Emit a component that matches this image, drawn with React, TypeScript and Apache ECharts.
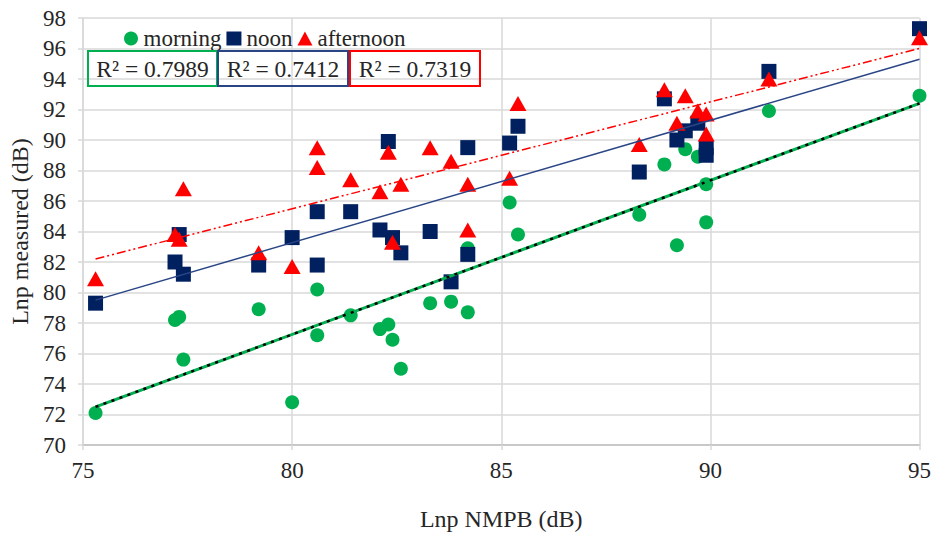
import React, { useEffect, useRef } from "react";
import * as echarts from "echarts";

const xs = [75.3, 77.2, 77.3, 77.4, 79.2, 80.0, 80.6, 80.6, 81.4, 82.1, 82.3, 82.4, 82.6, 83.3, 83.8, 84.2, 84.2, 85.2, 85.4, 88.3, 88.9, 89.2, 89.4, 89.7, 89.9, 89.9, 91.4, 95.0];
const morning = [72.1, 78.2, 78.4, 75.6, 78.9, 72.8, 80.2, 77.2, 78.5, 77.6, 77.9, 76.9, 75.0, 79.3, 79.4, 78.7, 82.9, 85.9, 83.8, 85.1, 88.4, 83.1, 89.4, 88.9, 87.1, 84.6, 91.9, 92.9];
const noon = [79.3, 82.0, 83.8, 81.2, 81.8, 83.6, 85.3, 81.8, 85.3, 84.1, 89.9, 83.6, 82.6, 84.0, 80.7, 82.5, 89.5, 89.8, 90.9, 87.9, 92.7, 90.0, 90.6, 91.1, 89.5, 89.0, 94.5, 97.3];
const afternoon = [80.9, 83.8, 83.5, 86.8, 82.6, 81.7, 89.5, 88.2, 87.4, 86.6, 89.2, 83.3, 87.1, 89.5, 88.6, 87.1, 84.1, 87.5, 92.4, 89.7, 93.3, 91.1, 92.9, 91.9, 91.7, 90.4, 94.0, 96.7];

const trendX = [75.3, 95.0];
const trendMorning = [72.5, 92.4];
const trendNoon = [79.5, 95.3];
const trendAfternoon = [82.2, 96.0];

const seriesNames = ["morning", "noon", "afternoon"];
const r2Values = ["0.7989", "0.7412", "0.7319"];

const GREEN = "#00b050";
const NAVY = "#002060";
const NAVY_LINE = "#2a4585";
const RED = "#ff0000";
const FONT = "'Liberation Serif', 'Times New Roman', serif";
const TEXT = "#262626";
const GRID = "#d9d9d9";

const pairs = (ys: number[]) => xs.map((x, i) => [x, ys[i]]);
const tpairs = (ys: number[]) => trendX.map((x, i) => [x, ys[i]]);

export default function App() {
  const ref = useRef<HTMLDivElement>(null);
  useEffect(() => {
    if (!ref.current) return;
    const chart = echarts.init(ref.current, undefined, { renderer: "svg" });
    const boxX = [88, 218, 350];
    const boxW = [129, 130, 130];
    const boxColors = [GREEN, NAVY_LINE, RED];
    const graphics: any[] = [];
    r2Values.forEach((v, i) => {
      graphics.push({
        type: "rect",
        shape: { x: boxX[i], y: 51, width: boxW[i], height: 35 },
        style: { fill: "none", stroke: boxColors[i], lineWidth: 2 },
        z: 10,
      });
      graphics.push({
        type: "text",
        x: boxX[i] + boxW[i] / 2,
        y: 69,
        style: {
          text: "R² = " + v,
          fill: TEXT,
          font: `23.5px ${FONT}`,
          textAlign: "center",
          textVerticalAlign: "middle",
        },
        z: 11,
      });
    });
    chart.setOption({
      animation: false,
      backgroundColor: "#ffffff",
      grid: { left: 83, right: 14, top: 18, bottom: 90 },
      legend: {
        data: [
          { name: seriesNames[0], icon: "circle" },
          { name: seriesNames[1], icon: "rect" },
          { name: seriesNames[2], icon: "triangle" },
        ],
        left: 119,
        top: 22,
        itemWidth: 15,
        itemHeight: 14,
        itemGap: 5,
        itemTextGap: 3,
        textStyle: { fontFamily: FONT, fontSize: 23, color: TEXT },
      },
      xAxis: {
        type: "value",
        min: 75,
        max: 95,
        interval: 5,
        name: "Lnp NMPB (dB)",
        nameLocation: "middle",
        nameGap: 62,
        nameTextStyle: { fontFamily: FONT, fontSize: 24, color: TEXT },
        axisLine: { show: true, lineStyle: { color: "#c8c8c8", width: 2 } },
        axisTick: { show: true, length: 5, lineStyle: { color: GRID, width: 1.5 } },
        axisLabel: { fontFamily: FONT, fontSize: 23, color: TEXT, margin: 14 },
        splitLine: { show: true, lineStyle: { color: GRID, width: 1.5 } },
      },
      yAxis: {
        type: "value",
        min: 70,
        max: 98,
        interval: 2,
        name: "Lnp measured (dB)",
        nameLocation: "middle",
        nameGap: 49,
        nameTextStyle: { fontFamily: FONT, fontSize: 24, color: TEXT },
        axisLine: { show: true, lineStyle: { color: GRID, width: 1.5 } },
        axisTick: { show: true, length: 5, lineStyle: { color: GRID, width: 1.5 } },
        axisLabel: { fontFamily: FONT, fontSize: 23, color: TEXT, margin: 17 },
        splitLine: { show: true, lineStyle: { color: GRID, width: 1.5 } },
      },
      series: [
        {
          name: seriesNames[0],
          type: "scatter",
          data: pairs(morning),
          symbol: "circle",
          symbolSize: 14,
          itemStyle: { color: GREEN, opacity: 1 },
          z: 2,
        },
        {
          name: seriesNames[1],
          type: "scatter",
          data: pairs(noon),
          symbol: "rect",
          symbolSize: 15,
          itemStyle: { color: NAVY, opacity: 1 },
          z: 3,
        },
        {
          name: seriesNames[2],
          type: "scatter",
          data: pairs(afternoon),
          symbol: "triangle",
          symbolSize: [17, 15],
          itemStyle: { color: RED, opacity: 1 },
          z: 4,
        },
        {
          name: "trend-morning-base",
          type: "line",
          data: tpairs(trendMorning),
          showSymbol: false,
          silent: true,
          lineStyle: { color: GREEN, width: 3 },
          z: 5,
        },
        {
          name: "trend-morning-dots",
          type: "line",
          data: tpairs(trendMorning),
          showSymbol: false,
          silent: true,
          lineStyle: { color: "#000000", width: 2.5, type: [3, 5.5], cap: "butt" },
          z: 6,
        },
        {
          name: "trend-noon",
          type: "line",
          data: tpairs(trendNoon),
          showSymbol: false,
          silent: true,
          lineStyle: { color: NAVY_LINE, width: 1.5 },
          z: 5,
        },
        {
          name: "trend-afternoon",
          type: "line",
          data: tpairs(trendAfternoon),
          showSymbol: false,
          silent: true,
          lineStyle: { color: RED, width: 1.5, type: [9, 3, 2, 3, 2, 3] },
          z: 5,
        },
      ],
      graphic: graphics,
    });
    return () => chart.dispose();
  }, []);
  return (
    <div
      ref={ref}
      style={{ position: "fixed", left: 0, top: 0, width: 934, height: 536 }}
    />
  );
}
